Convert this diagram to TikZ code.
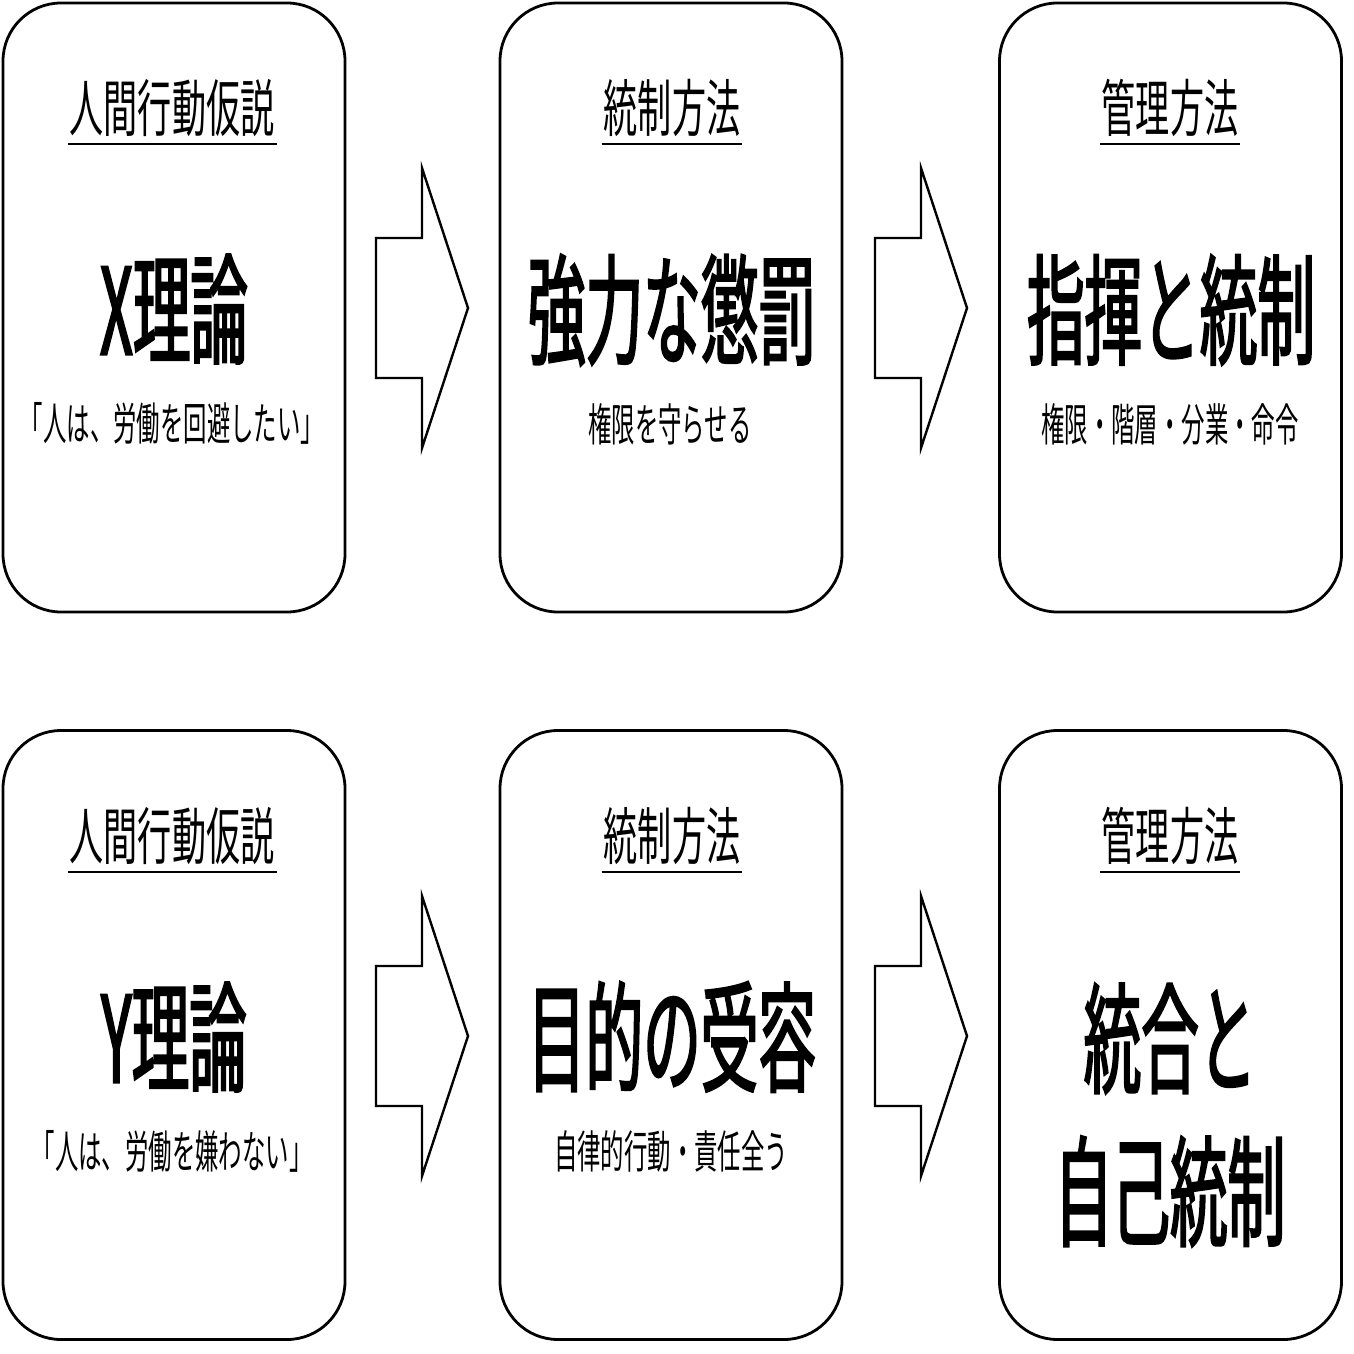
\documentclass[tikz,border=0pt]{standalone}
\usepackage{fontspec}
\newfontfamily\headjp[FakeStretch=0.55]{Noto Sans CJK JP}
\newfontfamily\bigjp[FakeStretch=0.48, FakeBold=1.6]{Noto Sans CJK JP}
\newfontfamily\smalljp[FakeStretch=0.52]{Noto Sans CJK JP}
\usetikzlibrary{positioning}

\begin{document}
\begin{tikzpicture}[x=1pt, y=-1pt,
			panel/.style={draw, line width=2.8pt, rounded corners=58pt, minimum width=342pt, minimum height=609pt},
			heading/.style={inner sep=0pt, font=\headjp\fontsize{62}{62}\selectfont},
			theory/.style={inner sep=0pt, align=center, font=\bigjp\fontsize{120}{153}\selectfont},
			remark/.style={inner sep=0pt, font=\smalljp\fontsize{45}{45}\selectfont},
			blockarrow/.style={draw, line width=2.4pt, line join=miter}]
			\useasboundingbox (0,0) rectangle (1354,1354);
			% X row
			\node[panel](xbox1) at (174,307.5){};
			\node[panel](xbox2) at (671,307.5){};
			\node[panel](xbox3) at (1170.5,307.5){};
			\node[heading](hx1) at (172,108){人間行動仮説};
			\node[heading](hx2) at (672,108){統制方法};
			\node[heading](hx3) at (1170,108){管理方法};
			\node[theory](xtheory) at (174,309){X理論};
			\node[theory](xcontrol) at (672,310){強力な懲罰};
			\node[theory](xmanage) at (1171,310){指揮と統制};
			\node[remark](xnote1) at (172,423){「人は、労働を回避したい」};
			\node[remark](xnote2) at (670,424){権限を守らせる};
			\node[remark](xnote3) at (1170,424){権限・階層・分業・命令};
			% Y row
			\node[panel](ybox1) at (174,1035){};
			\node[panel](ybox2) at (671,1035){};
			\node[panel](ybox3) at (1170.5,1035){};
			\node[heading](hy1) at (172,836){人間行動仮説};
			\node[heading](hy2) at (672,836){統制方法};
			\node[heading](hy3) at (1170,836){管理方法};
			\node[theory](ytheory) at (174,1037){Y理論};
			\node[theory](ycontrol) at (672,1037){目的の受容};
			\node[theory](ymanage) at (1170,1115){統合と\\自己統制};
			\node[remark](ynote1) at (172,1151){「人は、労働を嫌わない」};
			\node[remark](ynote2) at (671,1151){自律的行動・責任全う};
			\foreach \h in {hx1,hx2,hx3,hy1,hy2,hy3}
				\draw[line width=2.6pt] ([xshift=-2pt, yshift=-7pt]\h.south west) -- ([xshift=2pt, yshift=-7pt]\h.south east);
			\foreach \ax in {376,875}
				\foreach \ay in {308,1036}
					\draw[blockarrow] (\ax,\ay-70) -- (\ax+46,\ay-70) -- (\ax+46,\ay-140) -- (\ax+92,\ay)
						-- (\ax+46,\ay+140) -- (\ax+46,\ay+70) -- (\ax,\ay+70) -- cycle;
\end{tikzpicture}
\end{document}
